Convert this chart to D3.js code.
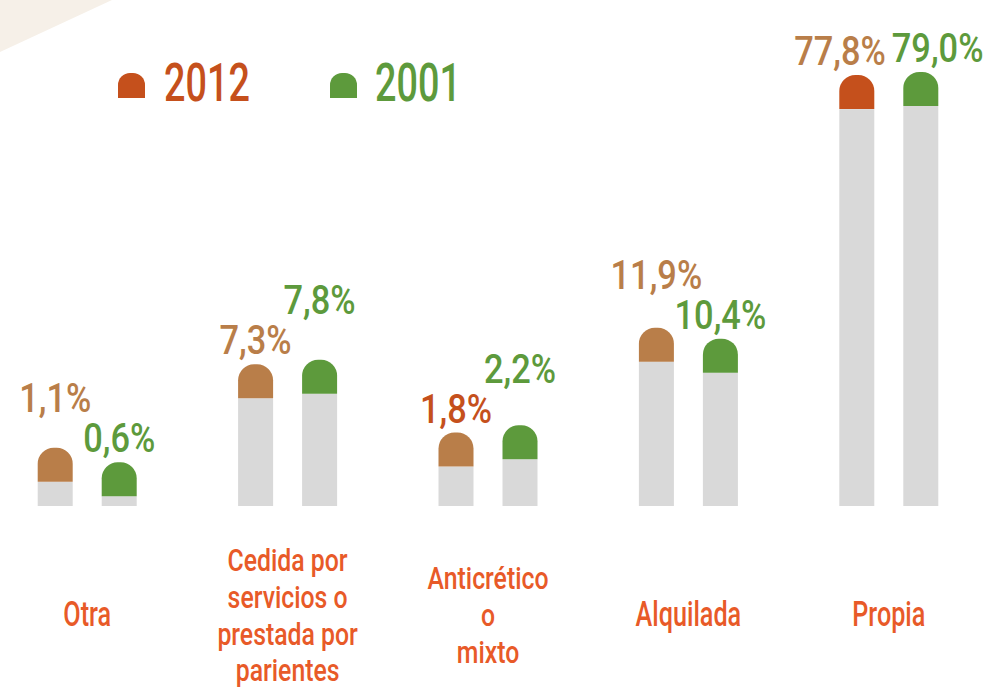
<!DOCTYPE html>
<html>
<head>
<meta charset="utf-8">
<script src="https://cdn.jsdelivr.net/npm/d3@7"></script>
<style>
  html, body { margin: 0; padding: 0; background: #fff; }
  svg { display: block; }
  text { font-family: Roboto, "Liberation Sans", sans-serif; font-weight: 500; }
</style>
</head>
<body>
<div id="chart"></div>
<script>
// data
const categories = ["Otra", "Cedida", "Anticrético", "Alquilada", "Propia"];
const categoryLines = [
  ["Otra"],
  ["Cedida por", "servicios o", "prestada por", "parientes"],
  ["Anticrético", "o", "mixto"],
  ["Alquilada"],
  ["Propia"]
];
const years = ["2012", "2001"];
const values2012 = [1.1, 7.3, 1.8, 11.9, 77.8];
const values2001 = [0.6, 7.8, 2.2, 10.4, 79.0];

const width = 989, height = 696;
const baseline = 506;
const barW = 35, capH = 34, capR = 16;
const sxValue = 0.86; // fake a condensed face

const colors = { brown: "#b97e49", red: "#c5501c", green: "#5d9a3c", grey: "#d9d9d9", cat: "#e85a28" };
// odd colour picks in the original infographic
const capColor = (year, cat) => year === "2001" ? colors.green : (cat === "Propia" ? colors.red : colors.brown);
const labelColor = (year, cat) => year === "2001" ? colors.green : (cat === "Anticrético" ? colors.red : colors.brown);

const rows = [];
categories.forEach((c, i) => {
  rows.push({ cat: c, year: "2012", value: values2012[i] });
  rows.push({ cat: c, year: "2001", value: values2001[i] });
});

const x0 = d3.scaleBand().domain(categories).range([-13, 989]);
const x1 = d3.scalePoint().domain(years).range([-32, 32]);
const cx = d => x0(d.cat) + x0.bandwidth() / 2 + x1(d.year);

// bars in the original are not linear, a power scale is close
const y = d3.scalePow().exponent(0.47).domain([0, 79]).range([0, 434]);

const locale = d3.formatLocale({ decimal: ",", thousands: ".", grouping: [3], currency: ["", ""] });
const fmt = locale.format(".1f");

const svg = d3.select("#chart").append("svg")
  .attr("width", width)
  .attr("height", height);

// corner decoration
svg.append("path")
  .attr("d", "M0,0H112L0,52Z")
  .attr("fill", "#f6f0e8");

function capPath(x, top, w, h, r) {
  const p = d3.path();
  p.moveTo(x, top + h);
  p.lineTo(x, top + r);
  p.arcTo(x, top, x + r, top, r);
  p.lineTo(x + w - r, top);
  p.arcTo(x + w, top, x + w, top + r, r);
  p.lineTo(x + w, top + h);
  p.closePath();
  return p.toString();
}

// legend
const legend = svg.append("g");
[{ year: "2012", ix: 118, tx: 164, col: colors.red },
 { year: "2001", ix: 330, tx: 375, col: colors.green }].forEach(l => {
  legend.append("path").attr("d", capPath(l.ix, 73, 27, 25, 12)).attr("fill", l.col);
  legend.append("text")
    .attr("transform", `translate(${l.tx},101) scale(0.7,1)`)
    .attr("font-size", 54)
    .attr("fill", l.col)
    .text(l.year);
});

// bars
const bars = svg.append("g").selectAll("g").data(rows).enter().append("g");
bars.append("rect")
  .attr("x", d => cx(d) - barW / 2)
  .attr("y", d => baseline - y(d.value) + capH)
  .attr("width", barW)
  .attr("height", d => Math.max(0, y(d.value) - capH))
  .attr("fill", colors.grey);
bars.append("path")
  .attr("d", d => capPath(cx(d) - barW / 2, baseline - y(d.value), barW, capH, capR))
  .attr("fill", d => capColor(d.year, d.cat));

// value labels
const labels = svg.append("g").selectAll("text").data(rows).enter().append("text")
  .attr("font-size", 40)
  .attr("text-anchor", "middle")
  .attr("fill", d => labelColor(d.year, d.cat))
  .text(d => fmt(d.value) + "%");

labels.each(function(d) {
  d.lx = cx(d);
  d.ly = baseline - y(d.value) - 10;
  d.w = this.getComputedTextLength() * sxValue;
});
const lh = 40;
categories.forEach(c => {
  const pair = rows.filter(r => r.cat === c);
  const [a, b] = pair[0].ly < pair[1].ly ? pair : [pair[1], pair[0]]; // a is the taller bar
  if (a.ly > b.ly - lh) {
    const raised = b.ly - lh;
    if (raised - 30 >= 8) {
      a.ly = raised;
    } else {
      const left = pair[0], right = pair[1];
      const overlap = (left.w + right.w) / 2 + 6 - (right.lx - left.lx);
      if (overlap > 0) { left.lx -= overlap / 2; right.lx += overlap / 2; }
    }
  }
});
labels.attr("transform", d => `translate(${d.lx},${d.ly}) scale(${sxValue},1)`);

// category labels
const catG = svg.append("g").selectAll("text").data(categories).enter().append("text")
  .attr("text-anchor", "middle")
  .attr("font-size", (c, i) => categoryLines[i].length > 1 ? 31 : 36)
  .attr("fill", colors.cat)
  .attr("transform", (c, i) => `translate(${x0(c) + x0.bandwidth() / 2},626) scale(${categoryLines[i].length > 1 ? 0.8 : 0.7},1)`);
catG.selectAll("tspan")
  .data((c, i) => categoryLines[i].map((t, j, arr) => ({ t, dy: (j - (arr.length - 1) / 2) * 37 })))
  .enter().append("tspan")
  .attr("x", 0)
  .attr("y", d => d.dy)
  .text(d => d.t);
</script>
</body>
</html>
